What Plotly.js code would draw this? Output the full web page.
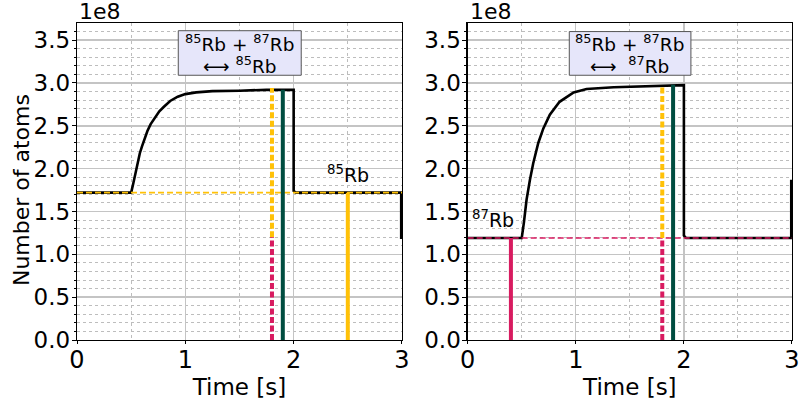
<!DOCTYPE html>
<html><head><meta charset="utf-8">
<script src="https://cdn.plot.ly/plotly-3.0.1.min.js"></script>
<style>html,body{margin:0;padding:0;background:#fff}</style>
</head><body><div id="chart" style="width:801px;height:401px"></div>
<script>
// Atom numbers in units of 1e8
const timeLeft  = [0, 0.1, 0.2, 0.3, 0.4, 0.5, 0.52, 0.54, 0.56, 0.58, 0.60, 0.62, 0.65, 0.68, 0.72, 0.76, 0.80, 0.86, 0.93, 1.00, 1.10, 1.25, 1.50, 1.75, 2.00, 2.00, 2.02, 2.50, 2.993, 2.993];
const atomsLeft = [1.72, 1.72, 1.72, 1.72, 1.72, 1.72, 1.83, 1.95, 2.07, 2.18, 2.26, 2.34, 2.44, 2.52, 2.60, 2.67, 2.72, 2.79, 2.84, 2.87, 2.89, 2.905, 2.91, 2.92, 2.92, 1.74, 1.72, 1.72, 1.72, 1.18];
const timeRight  = [0, 0.2, 0.4, 0.5, 0.52, 0.545, 0.576, 0.606, 0.653, 0.70, 0.76, 0.85, 0.98, 1.10, 1.35, 1.70, 2.00, 2.00, 2.02, 2.50, 2.993, 2.993];
const atomsRight = [1.19, 1.19, 1.19, 1.19, 1.37, 1.64, 1.87, 2.06, 2.30, 2.47, 2.63, 2.78, 2.89, 2.93, 2.95, 2.965, 2.975, 1.22, 1.19, 1.19, 1.19, 1.87];

// marker positions (time) and levels
const markTimesLeft  = [1.8, 1.9, 2.5];   // stacked dashed, total, 85Rb
const stackLeft      = [1.20, 2.94];      // 87Rb part top, total top
const totalLeft      = 2.92;
const rb85Level      = 1.72;
const markTimesRight = [0.4, 1.8, 1.9];   // 87Rb, stacked dashed, total
const stackRight     = [1.19, 2.95];
const totalRight     = 2.98;
const rb87Level      = 1.19;

const xTickLabels = ['0', '1', '2', '3'];
const yTickLabels = ['0.0', '0.5', '1.0', '1.5', '2.0', '2.5', '3.0', '3.5'];
const offsetLabel = '1e8';
const boxLine1      = '<sup>85</sup>Rb + <sup>87</sup>Rb';
const boxLine2Left  = '\u27F7 <sup>85</sup>Rb';
const boxLine2Right = '\u27F7&nbsp;&nbsp;<sup>87</sup>Rb';
const label85 = '<sup>85</sup>Rb';
const label87 = '<sup>87</sup>Rb';
const xTitle = 'Time [s]';
const yTitle = 'Number of atoms';

const YELLOW = '#FFC107', PINK = '#D81B60', GREEN = '#004D40';
const FONT = 'DejaVu Sans, sans-serif';

function seg(x0, x1, y0, y1, color, width, dash, xa, ya) {
  return {x: [x0, x1], y: [y0, y1], mode: 'lines', xaxis: xa, yaxis: ya,
          line: {color: color, width: width, dash: dash}, hoverinfo: 'skip', showlegend: false};
}

const traces = [
  {x: timeLeft, y: atomsLeft, mode: 'lines', xaxis: 'x', yaxis: 'y', line: {color: '#000', width: 2.6}, showlegend: false},
  seg(0, 3, rb85Level, rb85Level, YELLOW, 1.6, '6px,3px', 'x', 'y'),
  seg(markTimesLeft[0], markTimesLeft[0], stackLeft[0], stackLeft[1], YELLOW, 4, '6px,2.5px', 'x', 'y'),
  seg(markTimesLeft[0], markTimesLeft[0], 0, stackLeft[0], PINK, 4, '6px,2.5px', 'x', 'y'),
  seg(markTimesLeft[1], markTimesLeft[1], 0, totalLeft, GREEN, 4, 'solid', 'x', 'y'),
  seg(markTimesLeft[2], markTimesLeft[2], 0, rb85Level, YELLOW, 4, 'solid', 'x', 'y'),

  {x: timeRight, y: atomsRight, mode: 'lines', xaxis: 'x2', yaxis: 'y2', line: {color: '#000', width: 2.6}, showlegend: false},
  seg(0, 3, rb87Level, rb87Level, PINK, 1.6, '6px,3px', 'x2', 'y2'),
  seg(markTimesRight[0], markTimesRight[0], 0, rb87Level, PINK, 4, 'solid', 'x2', 'y2'),
  seg(markTimesRight[1], markTimesRight[1], stackRight[0], stackRight[1], YELLOW, 4, '6px,2.5px', 'x2', 'y2'),
  seg(markTimesRight[1], markTimesRight[1], 0, stackRight[0], PINK, 4, '6px,2.5px', 'x2', 'y2'),
  seg(markTimesRight[2], markTimesRight[2], 0, totalRight, GREEN, 4, 'solid', 'x2', 'y2')
];

const yTickVals = yTickLabels.map(Number);
const xTickVals = xTickLabels.map(Number);
// minor grid positions that do not coincide with major ticks
const yMinorVals = [];
for (let i = 1; i < 37; i++) if (i % 5 !== 0) yMinorVals.push(i / 10);
const xMinorVals = [0.5, 1.5, 2.5];

function xAxis(domain, anchor) {
  return {domain: domain, anchor: anchor, range: [0, 3], tickmode: 'array', tickvals: xTickVals, ticktext: xTickLabels,
    showline: true, mirror: true, linecolor: '#000', linewidth: 1.3, ticks: 'outside', ticklen: 3, tickcolor: '#000',
    ticklabelstandoff: -5,
    showgrid: true, gridcolor: '#c4c4c4', gridwidth: 1.4, zeroline: false,
    minor: {tickmode: 'array', tickvals: xMinorVals, showgrid: true, gridcolor: '#bdbdbd', griddash: 'dot', gridwidth: 1, ticks: ''},
    tickfont: {family: FONT, size: 24, color: '#000'},
    title: {text: xTitle, font: {family: FONT, size: 23, color: '#000'}, standoff: 0}};
}
function yAxis(anchor) {
  return {domain: [0, 1], anchor: anchor, range: [0, 3.7], tickmode: 'array', tickvals: yTickVals, ticktext: yTickLabels,
    showline: true, mirror: true, linecolor: '#000', linewidth: 1.3, ticks: 'outside', ticklen: 4, tickcolor: '#000',
    ticklabelstandoff: -3,
    showgrid: true, gridcolor: '#c4c4c4', gridwidth: 1.4, zeroline: false,
    minor: {tickmode: 'array', tickvals: yMinorVals, showgrid: true, gridcolor: '#bdbdbd', griddash: 'dot', gridwidth: 1, ticks: 'outside', ticklen: 2, tickcolor: '#000'},
    tickfont: {family: FONT, size: 23, color: '#000'}};
}

const annFont = {family: FONT, size: 19, color: '#000'};
const boxFont = {family: FONT, size: 18.5, color: '#000'};
const annotations = [
  {text: offsetLabel, xref: 'x domain', yref: 'y domain', x: 0, y: 1, xanchor: 'left', yanchor: 'bottom', showarrow: false,
   font: {family: FONT, size: 22, color: '#000'}, yshift: -3},
  {text: offsetLabel, xref: 'x2 domain', yref: 'y2 domain', x: 0, y: 1, xanchor: 'left', yanchor: 'bottom', showarrow: false,
   font: {family: FONT, size: 22, color: '#000'}, yshift: -3},
  {text: yTitle, xref: 'paper', yref: 'paper', x: -0.0783, y: 0.473, xanchor: 'center', yanchor: 'middle', textangle: -90,
   showarrow: false, font: {family: FONT, size: 22, color: '#000'}},
  {text: boxLine1, xref: 'x', yref: 'y', x: 1.5, y: 3.465, yanchor: 'middle', showarrow: false, font: boxFont},
  {text: boxLine2Left, xref: 'x', yref: 'y', x: 1.5, y: 3.205, yanchor: 'middle', showarrow: false, font: boxFont},
  {text: boxLine1, xref: 'x2', yref: 'y2', x: 1.5, y: 3.465, yanchor: 'middle', showarrow: false, font: boxFont},
  {text: boxLine2Right, xref: 'x2', yref: 'y2', x: 1.5, y: 3.205, yanchor: 'middle', showarrow: false, font: boxFont},
  {text: label85, xref: 'x', yref: 'y', x: 2.5, y: 1.78, xanchor: 'center', yanchor: 'bottom', showarrow: false, font: annFont},
  {text: label87, xref: 'x2', yref: 'y2', x: 0.23, y: 1.25, xanchor: 'center', yanchor: 'bottom', showarrow: false, font: annFont}
];

const boxStyle = {type: 'rect', fillcolor: '#e6e6fa', line: {color: '#555', width: 1}, layer: 'above'};
const shapes = [
  Object.assign({xref: 'x', yref: 'y', x0: 0.935, x1: 2.07, y0: 3.09, y1: 3.61}, boxStyle),
  Object.assign({xref: 'x2', yref: 'y2', x0: 0.94, x1: 2.065, y0: 3.09, y1: 3.60}, boxStyle)
];

const layout = {
  width: 801, height: 401,
  margin: {l: 77, r: 9, t: 23, b: 61},
  paper_bgcolor: '#fff', plot_bgcolor: '#fff',
  xaxis: xAxis([0, 0.4545], 'y'),
  yaxis: yAxis('x'),
  xaxis2: xAxis([0.5464, 1], 'y2'),
  yaxis2: yAxis('x2'),
  annotations: annotations,
  shapes: shapes,
  showlegend: false
};

Plotly.newPlot('chart', traces, layout, {displayModeBar: false, staticPlot: true});
</script></body></html>
